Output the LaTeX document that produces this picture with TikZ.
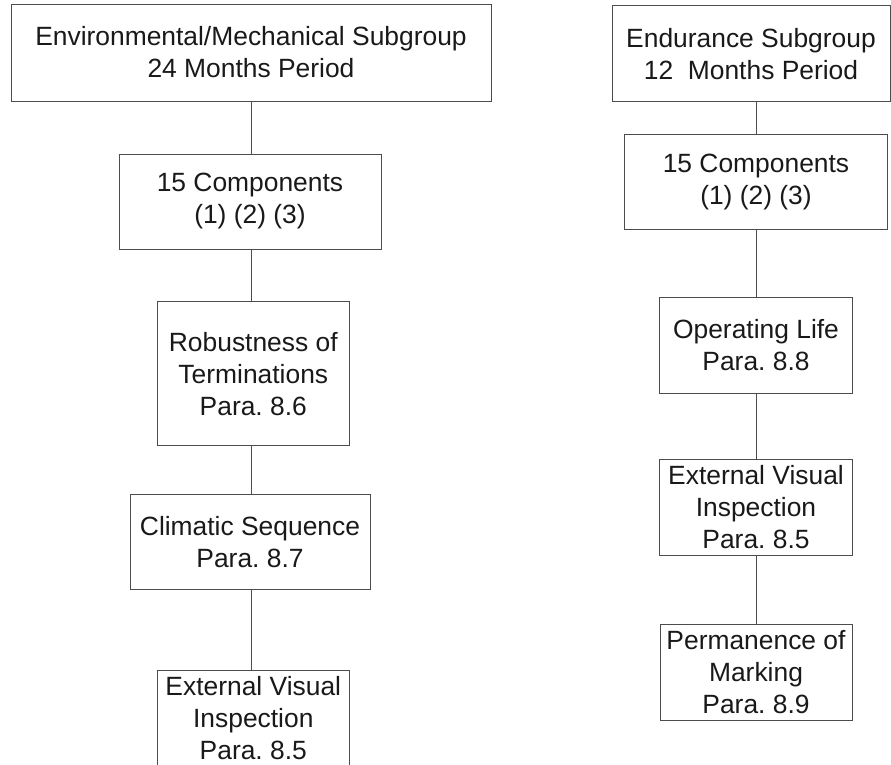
\documentclass[tikz,border=0pt]{standalone}
\usepackage{fontspec}
\setmainfont{Liberation Sans}
\frenchspacing

\begin{document}
\begin{tikzpicture}[x=1pt, y=-1pt,
  box/.style={draw=black!70, line width=0.9pt, inner sep=0pt, align=center, text=black!90, font=\fontsize{26.4}{32}\selectfont},
  link/.style={draw=black!70, line width=0.9pt}]
  \useasboundingbox (0,0) rectangle (891,764);
  \clip (0,0) rectangle (891,764);
  \node[box, minimum width=480pt, minimum height=97pt] (envgrp) at (251,52.5) {Environmental/Mechanical Subgroup\\24 Months Period};
  \node[box, minimum width=262pt, minimum height=95pt] (envcomp) at (250,201.5) {15 Components\\(1) (2) (3)};
  \node[box, minimum width=192pt, minimum height=144pt] (robust) at (253.3,373.7) {Robustness of\\Terminations\\Para. 8.6};
  \node[box, minimum width=240pt, minimum height=95.5pt] (climatic) at (250,541.7) {Climatic Sequence\\Para. 8.7};
  \node[box, minimum width=192pt, minimum height=96pt] (envvisual) at (253.3,718) {External Visual\\Inspection\\Para. 8.5};
  \node[box, minimum width=278pt, minimum height=96pt] (endgrp) at (751,53.9) {Endurance Subgroup\\12~~Months Period};
  \node[box, minimum width=263pt, minimum height=95pt] (endcomp) at (756,181.7) {15 Components\\(1) (2) (3)};
  \node[box, minimum width=193pt, minimum height=96pt] (oplife) at (756,345.3) {Operating Life\\Para. 8.8};
  \node[box, minimum width=193pt, minimum height=96pt] (endvisual) at (756,507) {External Visual\\Inspection\\Para. 8.5};
  \node[box, minimum width=192pt, minimum height=96pt] (marking) at (756,672) {Permanence of\\Marking\\Para. 8.9};
  \draw[link] (envgrp.south) -- (envgrp.south |- envcomp.north);
  \draw[link] (envgrp.south |- envcomp.south) -- (envgrp.south |- robust.north);
  \draw[link] (envgrp.south |- robust.south) -- (envgrp.south |- climatic.north);
  \draw[link] (envgrp.south |- climatic.south) -- (envgrp.south |- envvisual.north);
  \draw[link] (endcomp.north |- endgrp.south) -- (endcomp.north);
  \draw[link] (endcomp.south) -- (oplife.north);
  \draw[link] (oplife.south) -- (endvisual.north);
  \draw[link] (endvisual.south) -- (marking.north);
\end{tikzpicture}
\end{document}
